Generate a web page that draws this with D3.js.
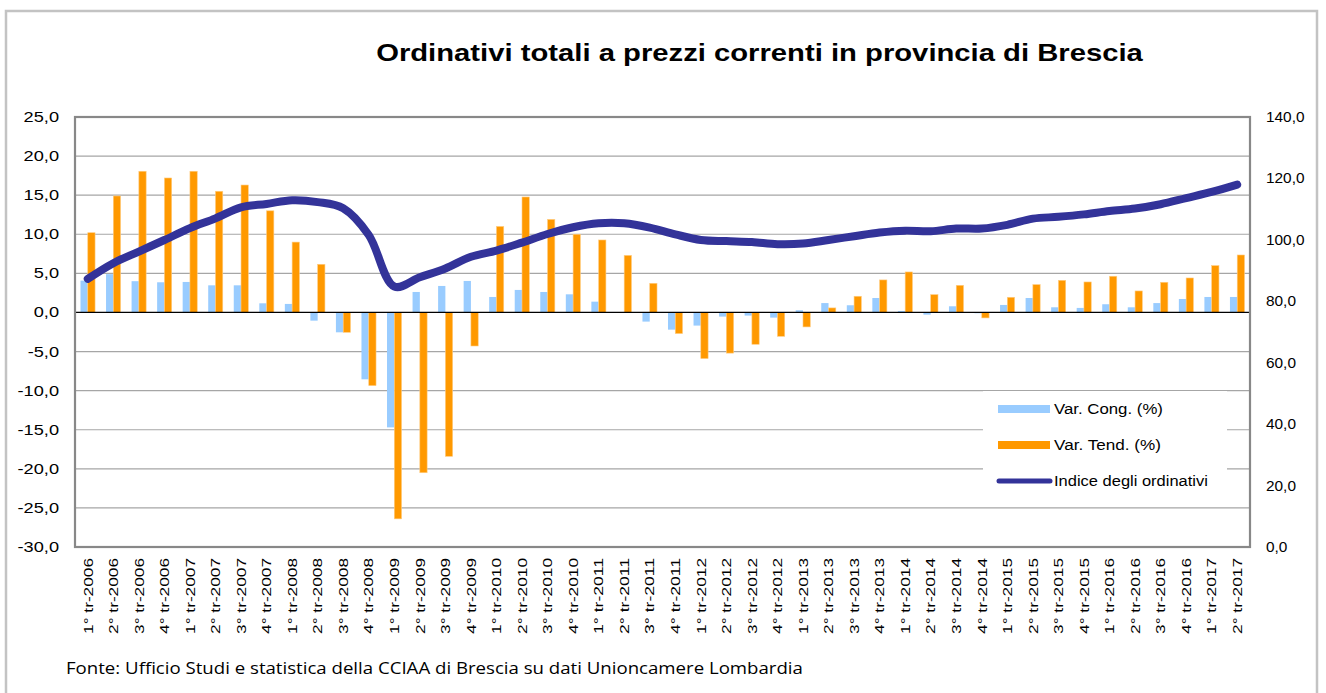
<!DOCTYPE html>
<html lang="it">
<head>
    <meta charset="UTF-8">
    <title>Ordinativi totali a prezzi correnti in provincia di Brescia</title>
    <script src="https://d3js.org/d3.v7.min.js"></script>
    <style>
        body { margin: 0; padding: 0; background: #fff; }
        svg { display: block; font-family: Arial, "Liberation Sans", sans-serif; }
    </style>
</head>
<body>
    <svg id="chart" width="1326" height="693"></svg>

    <script>
        // quarters on the x axis
        const quarters = [
            "1° tr-2006", "2° tr-2006", "3° tr-2006", "4° tr-2006",
            "1° tr-2007", "2° tr-2007", "3° tr-2007", "4° tr-2007",
            "1° tr-2008", "2° tr-2008", "3° tr-2008", "4° tr-2008",
            "1° tr-2009", "2° tr-2009", "3° tr-2009", "4° tr-2009",
            "1° tr-2010", "2° tr-2010", "3° tr-2010", "4° tr-2010",
            "1° tr-2011", "2° tr-2011", "3° tr-2011", "4° tr-2011",
            "1° tr-2012", "2° tr-2012", "3° tr-2012", "4° tr-2012",
            "1° tr-2013", "2° tr-2013", "3° tr-2013", "4° tr-2013",
            "1° tr-2014", "2° tr-2014", "3° tr-2014", "4° tr-2014",
            "1° tr-2015", "2° tr-2015", "3° tr-2015", "4° tr-2015",
            "1° tr-2016", "2° tr-2016", "3° tr-2016", "4° tr-2016",
            "1° tr-2017", "2° tr-2017"
        ];

        // Var. Cong. (%)
        const varCong = [
            4.07, 4.9, 4.0, 3.86, 3.9, 3.47, 3.47, 1.17, 1.09, -1.05, -2.54, -8.55,
            -14.7, 2.62, 3.39, 4.03, 1.98, 2.88, 2.62, 2.32, 1.38, 0.05, -1.17, -2.2,
            -1.68, -0.53, -0.4, -0.66, 0.28, 1.2, 0.92, 1.85, 0.19, -0.28, 0.79, -0.1,
            0.96, 1.85, 0.66, 0.58, 1.05, 0.66, 1.2, 1.72, 1.98, 1.98
        ];

        // Var. Tend. (%)
        const varTend = [
            10.2, 14.9, 18.06, 17.2, 18.06, 15.5, 16.3, 13.0, 9.0, 6.16, -2.54, -9.36,
            -26.4, -20.5, -18.4, -4.29, 11.0, 14.77, 11.9, 10.0, 9.27, 7.3, 3.73, -2.7,
            -5.9, -5.2, -4.07, -3.05, -1.85, 0.58, 2.07, 4.16, 5.18, 2.28, 3.47, -0.7,
            1.94, 3.56, 4.11, 3.9, 4.63, 2.75, 3.86, 4.41, 5.99, 7.35
        ];

        // Indice degli ordinativi (right axis)
        const indice = [
            87.3, 92.4, 96.2, 99.95, 103.8, 107.0, 110.6, 111.7, 112.9, 112.3, 110.3, 101.6,
            84.8, 87.8, 90.7, 94.5, 96.5, 99.1, 101.9, 104.1, 105.4, 105.4, 104.0, 101.8,
            99.97, 99.6, 99.3, 98.6, 98.8, 99.97, 101.2, 102.4, 103.0, 102.8, 103.7, 103.7,
            104.9, 106.9, 107.5, 108.3, 109.4, 110.2, 111.6, 113.6, 115.6, 118.0
        ];

        const leftTicks = [-30, -25, -20, -15, -10, -5, 0, 5, 10, 15, 20, 25];
        const rightTicks = [0, 20, 40, 60, 80, 100, 120, 140];
        const seriesNames = ["Var. Cong. (%)", "Var. Tend. (%)", "Indice degli ordinativi"];

        const title = "Ordinativi totali a prezzi correnti in provincia di Brescia";
        const source = "Fonte: Ufficio Studi e statistica della CCIAA di Brescia su dati Unioncamere Lombardia";

        const colBlue = "#99ccff";
        const colOrange = "#ff9900";
        const colLine = "#333399";

        const svg = d3.select("#chart");
        const plot = { left: 75, right: 1250, top: 117, bottom: 547 };

        const fmt = d => d.toFixed(1).replace(".", ",");

        const x0 = d3.scaleBand()
            .domain(quarters)
            .range([plot.left, plot.right])
            .paddingInner(0.43)
            .paddingOuter(0.215);
        const x1 = d3.scaleBand()
            .domain(["cong", "tend"])
            .range([0, x0.bandwidth()]);
        const center = q => x0(q) + x0.bandwidth() / 2;

        const yL = d3.scaleLinear().domain([-30, 25]).range([plot.bottom, plot.top]);
        const yR = d3.scaleLinear().domain([0, 140]).range([plot.bottom, plot.top]);

        // outer frame
        svg.append("rect")
            .attr("x", 6).attr("y", 11)
            .attr("width", 1311).attr("height", 700)
            .attr("fill", "none")
            .attr("stroke", "#c3c3c3")
            .attr("stroke-width", 2.5);

        // title
        const titleText = svg.append("text")
            .attr("text-anchor", "middle")
            .attr("font-size", 23)
            .attr("font-weight", "bold")
            .text(title);
        const tw = titleText.node().getComputedTextLength();
        titleText.attr("transform", `translate(759.5,61) scale(${767 / tw},1)`);

        // gridlines
        svg.append("g")
            .selectAll("line")
            .data(leftTicks.filter(t => t !== 0 && t !== 25 && t !== -30))
            .join("line")
            .attr("x1", plot.left).attr("x2", plot.right)
            .attr("y1", d => yL(d)).attr("y2", d => yL(d))
            .attr("stroke", "#a6a6a6")
            .attr("stroke-width", 1.2);

        // bars
        const rows = quarters.map((q, i) => ({ q, cong: varCong[i], tend: varTend[i] }));
        const groups = svg.append("g")
            .selectAll("g")
            .data(rows)
            .join("g")
            .attr("transform", d => `translate(${x0(d.q)},0)`);

        groups.append("rect")
            .attr("x", x1("cong"))
            .attr("width", x1.bandwidth())
            .attr("y", d => yL(Math.max(0, d.cong)))
            .attr("height", d => Math.abs(yL(d.cong) - yL(0)))
            .attr("fill", colBlue);

        groups.append("rect")
            .attr("x", x1("tend"))
            .attr("width", x1.bandwidth())
            .attr("y", d => yL(Math.max(0, d.tend)))
            .attr("height", d => Math.abs(yL(d.tend) - yL(0)))
            .attr("fill", colOrange)
            .attr("stroke", "#ffcc80")
            .attr("stroke-width", 0.6);

        // zero line
        svg.append("line")
            .attr("x1", plot.left).attr("x2", plot.right)
            .attr("y1", yL(0)).attr("y2", yL(0))
            .attr("stroke", "#000")
            .attr("stroke-width", 1.3);

        // index line
        const line = d3.line()
            .x((d, i) => center(quarters[i]))
            .y(d => yR(d))
            .curve(d3.curveCatmullRom.alpha(0.5));

        svg.append("path")
            .datum(indice)
            .attr("d", line)
            .attr("fill", "none")
            .attr("stroke", colLine)
            .attr("stroke-width", 8)
            .attr("stroke-linecap", "round")
            .attr("stroke-linejoin", "round");

        // plot border
        svg.append("rect")
            .attr("x", plot.left).attr("y", plot.top)
            .attr("width", plot.right - plot.left)
            .attr("height", plot.bottom - plot.top)
            .attr("fill", "none")
            .attr("stroke", "#888")
            .attr("stroke-width", 2.2);

        // axes
        const leftAxis = svg.append("g")
            .attr("transform", `translate(${plot.left},0)`)
            .call(d3.axisLeft(yL).tickValues(leftTicks).tickFormat(fmt).tickSize(0).tickPadding(16));
        const rightAxis = svg.append("g")
            .attr("transform", `translate(${plot.right},0)`)
            .call(d3.axisRight(yR).tickValues(rightTicks).tickFormat(fmt).tickSize(0).tickPadding(16));

        [[leftAxis, 1.3], [rightAxis, 1.1]].forEach(([ax, k]) => {
            ax.select(".domain").remove();
            ax.selectAll("text")
                .attr("font-size", 14)
                .attr("font-family", "Arial, 'Liberation Sans', sans-serif")
                .attr("fill", "#000")
                .each(function () {
                    const t = d3.select(this);
                    const xx = +t.attr("x");
                    t.attr("x", 0).attr("transform", `translate(${xx},0) scale(${k},1)`);
                });
        });

        // x labels
        svg.append("g")
            .selectAll("text")
            .data(quarters)
            .join("text")
            .attr("text-anchor", "end")
            .attr("dy", "0.35em")
            .attr("font-size", 13.5)
            .text(d => d)
            .each(function (d) {
                const w = this.getComputedTextLength();
                d3.select(this).attr("transform",
                    `translate(${center(d)},558) rotate(-90) scale(${76 / w},1)`);
            });

        // legend
        const legend = svg.append("g");
        legend.append("rect")
            .attr("x", 983).attr("y", 391)
            .attr("width", 244).attr("height", 104)
            .attr("fill", "#fff");

        const legendRows = [
            { name: seriesNames[0], type: "bar", color: colBlue, y: 409, w: 109 },
            { name: seriesNames[1], type: "bar", color: colOrange, y: 445, w: 107 },
            { name: seriesNames[2], type: "line", color: colLine, y: 481, w: 154 }
        ];
        legendRows.forEach(r => {
            if (r.type === "bar") {
                legend.append("rect")
                    .attr("x", 998).attr("y", r.y - 4)
                    .attr("width", 52).attr("height", 8)
                    .attr("fill", r.color);
            } else {
                legend.append("line")
                    .attr("x1", 999).attr("x2", 1050)
                    .attr("y1", r.y).attr("y2", r.y)
                    .attr("stroke", r.color)
                    .attr("stroke-width", 5)
                    .attr("stroke-linecap", "round");
            }
            const t = legend.append("text")
                .attr("dy", "0.35em")
                .attr("font-size", 14.5)
                .text(r.name);
            const w = t.node().getComputedTextLength();
            t.attr("transform", `translate(1054,${r.y}) scale(${r.w / w},1)`);
        });

        // source note
        const src = svg.append("text")
            .attr("font-family", "'Open Sans', 'Noto Sans', sans-serif")
            .attr("font-size", 16)
            .text(source);
        const sw = src.node().getComputedTextLength();
        src.attr("transform", `translate(66,674) scale(${737 / sw},1)`);
    </script>
</body>
</html>
